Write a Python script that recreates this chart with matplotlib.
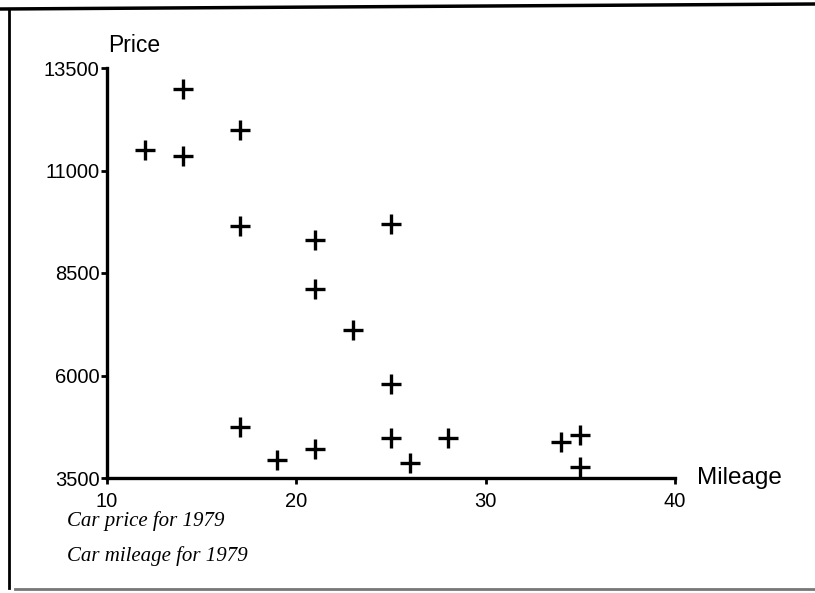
import matplotlib
matplotlib.use("Agg")
import matplotlib.pyplot as plt
from matplotlib.lines import Line2D

# Data
mileage = [12, 14, 14, 17, 17, 21, 21, 25, 23, 25, 17, 19, 21, 25, 26, 28, 34, 35, 35]
price = [11500, 13000, 11350, 12000, 9650, 9300, 8100, 9700, 7100, 5800,
         4750, 3950, 4200, 4480, 3870, 4480, 4380, 4550, 3770]
x_ticks = [10, 20, 30, 40]
y_ticks = [3500, 6000, 8500, 11000, 13500]
caption = ["Car price for 1979", "Car mileage for 1979"]

W, H = 815, 593
fig = plt.figure(figsize=(W / 100, H / 100), dpi=100)
fig.patch.set_facecolor("white")

ax = fig.add_axes([107 / W, (H - 478) / H, (675 - 107) / W, (478 - 68) / H])
ax.plot(mileage, price, linestyle="none", marker="+", markersize=14.5,
        markeredgewidth=2.4, color="black", clip_on=False)

ax.set_xlim(10, 40)
ax.set_ylim(3500, 13500)
ax.set_xticks(x_ticks)
ax.set_yticks(y_ticks)
ax.set_xticklabels([str(t) for t in x_ticks], fontsize=14.5, family="Liberation Sans")
ax.set_yticklabels([str(t) for t in y_ticks], fontsize=14.5, family="Liberation Sans")
ax.tick_params(axis="both", direction="out", length=4, width=2, color="black")
ax.tick_params(axis="y", pad=1.5)
ax.tick_params(axis="x", pad=6)

for s in ["top", "right"]:
    ax.spines[s].set_visible(False)
for s in ["left", "bottom"]:
    ax.spines[s].set_linewidth(2.4)
    ax.spines[s].set_capstyle("projecting")

# Axis labels
fig.text(108 / W, 1 - 46 / H, "Price", fontsize=16.5, family="Liberation Sans",
         ha="left", va="center")
fig.text(697 / W, 1 - 478 / H, "Mileage", fontsize=17.5, family="Liberation Sans",
         ha="left", va="center")

# Caption
fig.text(67 / W, 1 - 521 / H, caption[0], fontsize=15, family="Liberation Serif",
         style="italic", ha="left", va="center")
fig.text(67 / W, 1 - 556 / H, caption[1], fontsize=15, family="Liberation Serif",
         style="italic", ha="left", va="center")

# Scanned frame border
fig.add_artist(Line2D([0, 1], [1 - 9 / H, 1 - 4 / H], transform=fig.transFigure,
                      color="black", linewidth=2.5))
fig.add_artist(Line2D([9 / W, 9 / W], [1 - 9 / H, 1 - 588 / H], transform=fig.transFigure,
                      color="black", linewidth=2.0))
fig.add_artist(Line2D([15 / W, 1], [1 - 589 / H, 1 - 589 / H], transform=fig.transFigure,
                      color="#777777", linewidth=2.0))

fig.savefig("out.png", dpi=100, facecolor="white")
